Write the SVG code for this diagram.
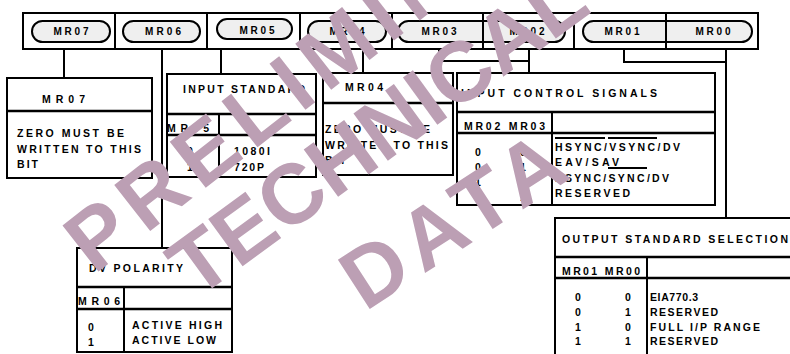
<svg xmlns="http://www.w3.org/2000/svg" width="790" height="354" viewBox="0 0 790 354">
<defs>
<style>
.t{font-family:"Liberation Sans",Arial,sans-serif;font-weight:bold;font-size:10.5px;fill:#000}
.p{font-size:10px;text-anchor:middle}
.box{fill:#fff;stroke:#000;stroke-width:2}
.ln{stroke:#000;stroke-width:2;fill:none}
.dv{stroke:#000;stroke-width:2.5;fill:none}
.pill{fill:#efefef;stroke:#000;stroke-width:2}
.wm{font-family:"Liberation Sans",Arial,sans-serif;font-weight:bold;font-size:85px;fill:#bc9fb4}
</style>
</defs>
<rect width="790" height="354" fill="#fff"/>

<g id="register-bar">
<rect x="23" y="13" width="735" height="36" class="box"/>
<rect id="pill-mr07" x="32" y="21" width="78" height="21" rx="10.5" class="pill"/>
<rect id="pill-mr06" x="123" y="21" width="77" height="21" rx="10.5" class="pill"/>
<rect id="pill-mr05" x="217" y="19" width="75" height="20" rx="10" class="pill"/>
<rect id="pill-mr04" x="308" y="21" width="78" height="21" rx="10.5" class="pill"/>
<rect id="pill-mr03-02" x="398" y="21" width="167" height="21" rx="10.5" class="pill"/>
<rect id="pill-mr01-00" x="583" y="21" width="169" height="21" rx="10.5" class="pill"/>
<g class="ln">
<line x1="115" y1="13" x2="115" y2="49"/>
<line x1="207" y1="13" x2="207" y2="49"/>
<line x1="300" y1="13" x2="300" y2="49"/>
<line x1="392" y1="13" x2="392" y2="49"/>
<line x1="483" y1="13" x2="483" y2="49"/>
<line x1="574" y1="13" x2="574" y2="49"/>
<line x1="666" y1="13" x2="666" y2="49"/>
</g>
<g class="t p">
<text x="71" y="35" textLength="35">MR07</text>
<text x="163" y="35" textLength="36">MR06</text>
<text x="257" y="34" textLength="35">MR05</text>
<text x="347" y="35" textLength="35">MR04</text>
<text x="439" y="35" textLength="35">MR03</text>
<text x="527" y="35" textLength="35">MR02</text>
<text x="622" y="35" textLength="35">MR01</text>
<text x="713" y="35" textLength="35">MR00</text>
</g>
</g>

<g id="connectors" class="ln">
<line x1="64" y1="49" x2="64" y2="78"/>
<line x1="162" y1="49" x2="162" y2="248"/>
<line x1="221" y1="49" x2="221" y2="74"/>
<line x1="363" y1="49" x2="363" y2="73"/>
<polyline points="439,49 439,61 529,61"/>
<line x1="529" y1="49" x2="529" y2="73"/>
<polyline points="624,49 624,62 726,62"/>
<line x1="726" y1="49" x2="726" y2="218"/>
</g>

<g id="box-mr07">
<rect x="7" y="78" width="145" height="100" class="box"/>
<line x1="7" y1="111" x2="152" y2="111" class="dv"/>
<text class="t" x="42" y="103" textLength="43">MR07</text>
<text class="t" x="17" y="137" textLength="107">ZERO MUST BE</text>
<text class="t" x="17" y="153" textLength="124">WRITTEN TO THIS</text>
<text class="t" x="17" y="168" textLength="21">BIT</text>
</g>

<g id="box-input-standard">
<rect x="167" y="74" width="149" height="103" class="box"/>
<line x1="167" y1="114" x2="316" y2="114" class="dv"/>
<line x1="167" y1="135" x2="316" y2="135" class="dv"/>
<line x1="219" y1="114" x2="219" y2="177" class="ln"/>
<text class="t" x="183" y="93" textLength="122">INPUT STANDARD</text>
<text class="t" x="167" y="132" textLength="42">MR05</text>
<text class="t" x="187" y="155">0</text>
<text class="t" x="187" y="171">1</text>
<text class="t" x="234" y="155" textLength="36">1080I</text>
<text class="t" x="234" y="171" textLength="30">720P</text>
</g>

<g id="box-mr04">
<rect x="323" y="73" width="130" height="102" class="box"/>
<line x1="323" y1="103" x2="453" y2="103" class="dv"/>
<text class="t" x="345" y="91" textLength="38">MR04</text>
<text class="t" x="325" y="133" textLength="105">ZERO MUST BE</text>
<text class="t" x="325" y="149" textLength="123">WRITTEN TO THIS</text>
<text class="t" x="325" y="164" textLength="21">BIT</text>
</g>

<g id="box-input-control">
<rect x="457" y="73" width="258" height="132" class="box"/>
<line x1="457" y1="112" x2="715" y2="112" class="dv"/>
<line x1="457" y1="133" x2="715" y2="133" class="dv"/>
<line x1="552" y1="112" x2="552" y2="205" class="ln"/>
<text class="t" x="461" y="97" textLength="196">INPUT CONTROL SIGNALS</text>
<text class="t" x="464" y="130" textLength="81">MR02  MR03</text>
<g class="t">
<text x="475" y="156">0</text><text x="520" y="156">0</text>
<text x="475" y="171">0</text><text x="520" y="171">1</text>
<text x="475" y="186">1</text><text x="520" y="186">0</text>
<text x="475" y="201">1</text><text x="520" y="201">1</text>
</g>
<text class="t" x="555" y="151" textLength="125">HSYNC/VSYNC/DV</text>
<text class="t" x="555" y="166" textLength="64">EAV/SAV</text>
<text class="t" x="555" y="182" textLength="114">HSYNC/SYNC/DV</text>
<text class="t" x="555" y="197" textLength="75">RESERVED</text>
<g class="ln" stroke-width="1.3">
<line x1="555" y1="138" x2="605" y2="138"/>
<line x1="608" y1="138" x2="657" y2="138"/>
<line x1="608" y1="168" x2="647" y2="168"/>
</g>
</g>

<g id="box-dv-polarity">
<rect x="77" y="248" width="155" height="104" class="box"/>
<line x1="77" y1="287" x2="232" y2="287" class="dv"/>
<line x1="77" y1="309" x2="232" y2="309" class="dv"/>
<line x1="124" y1="287" x2="124" y2="352" class="ln"/>
<text class="t" x="89" y="272" textLength="94">DV POLARITY</text>
<text class="t" x="78" y="305" textLength="42">MR06</text>
<text class="t" x="88" y="331">0</text>
<text class="t" x="88" y="346">1</text>
<text class="t" x="132" y="329" textLength="90">ACTIVE HIGH</text>
<text class="t" x="132" y="344" textLength="84">ACTIVE LOW</text>
</g>

<g id="box-output-standard">
<rect x="555" y="218" width="245" height="140" class="box"/>
<line x1="555" y1="257" x2="800" y2="257" class="dv"/>
<line x1="555" y1="278" x2="800" y2="278" class="dv"/>
<line x1="647" y1="257" x2="647" y2="358" class="ln"/>
<text class="t" x="562" y="243" textLength="226">OUTPUT STANDARD SELECTION</text>
<text class="t" x="562" y="275" textLength="78">MR01  MR00</text>
<g class="t">
<text x="575" y="301">0</text><text x="625" y="301">0</text>
<text x="575" y="316">0</text><text x="625" y="316">1</text>
<text x="575" y="331">1</text><text x="625" y="331">0</text>
<text x="575" y="345">1</text><text x="625" y="345">1</text>
</g>
<text class="t" x="650" y="301" textLength="48">EIA770.3</text>
<text class="t" x="650" y="316" textLength="68">RESERVED</text>
<text class="t" x="650" y="331" textLength="110">FULL I/P RANGE</text>
<text class="t" x="650" y="345" textLength="68">RESERVED</text>
</g>

<g id="watermark">
<text class="wm" letter-spacing="9" transform="translate(94,275) rotate(-38)">PRELIMINARY</text>
<text class="wm" transform="translate(196,300) rotate(-36)">TECHNICAL</text>
<text class="wm" letter-spacing="8" transform="translate(365,312) rotate(-33)">DATA</text>
</g>
</svg>
